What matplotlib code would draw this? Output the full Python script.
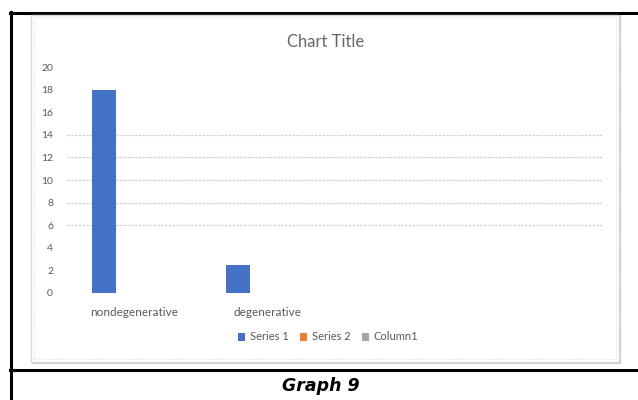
import matplotlib
matplotlib.use("Agg")
import matplotlib.pyplot as plt
from matplotlib.patches import Rectangle
from matplotlib.lines import Line2D

# Chart data
categories = ["nondegenerative", "degenerative", "", ""]
series_names = ["Series 1", "Series 2", "Column1"]
series_1 = [18, 2.5, 0, 0]
series_2 = [0, 0, 0, 0]
column_1 = [0, 0, 0, 0]
y_ticks = [0, 2, 4, 6, 8, 10, 12, 14, 16, 18, 20]
grid_values = [6, 8, 10, 12, 14]
caption = "Graph 9"

colors = ["#4472C4", "#ED7D31", "#A5A5A5"]
text_gray = "#595959"

W, H = 638, 400
fig = plt.figure(figsize=(W / 100, H / 100), dpi=100)
fig.patch.set_facecolor("white")


def fx(px):
    return px / W


def fy(py):
    return 1 - py / H


# Outer table lines
for (x0, y0, x1, y1) in [(10, 12.5, 640, 12.5), (10.5, 12, 10.5, 400), (10, 370, 640, 370)]:
    fig.add_artist(Line2D([fx(x0), fx(x1)], [fy(y0), fy(y1)], color="black", lw=2.2))

# Chart frame with soft shadow
fig.add_artist(Rectangle((fx(32), fy(364)), fx(589), 349 / H, facecolor="#c8c8c8",
                         edgecolor="none", zorder=1))
fig.add_artist(Rectangle((fx(31), fy(362)), fx(588), 347 / H, facecolor="white",
                         edgecolor="#d9d9d9", lw=1.0, zorder=2))
fig.add_artist(Rectangle((fx(34), fy(359)), fx(582), 342 / H, facecolor="white",
                         edgecolor="#ececec", lw=0.8, ls=(0, (3, 1)), zorder=2))

# Plot area
ax = fig.add_axes([fx(67), fy(293), fx(602 - 67), (293 - 67) / H], zorder=3)
ax.set_facecolor("none")
bar_w = 0.175
step = bar_w * 1.27
offsets = [-step, 0, step]
xs = list(range(len(categories)))
for vals, off, col, name in zip([series_1, series_2, column_1], offsets, colors, series_names):
    ax.bar([x + off for x in xs], vals, width=bar_w, color=col, label=name, zorder=3)

for g in grid_values:
    ax.axhline(g, color="#d0d0d0", lw=0.9, ls=(0, (2, 1)), zorder=1)

ax.set_xlim(-0.5, len(categories) - 0.5)
ax.set_ylim(0, 20)
ax.set_yticks(y_ticks)
ax.set_yticklabels([str(t) for t in y_ticks], fontsize=7.5, color=text_gray, family="Lato")
ax.set_xticks(xs)
ax.set_xticklabels(categories, fontsize=8.5, color=text_gray, family="Lato")
ax.tick_params(length=0, pad=10, axis="y")
ax.tick_params(length=0, pad=10, axis="x")
for s in ax.spines.values():
    s.set_visible(False)

# Title
fig.text(fx(326), fy(42), "Chart Title", ha="center", va="center", fontsize=12,
         color="#666666", family="Lato", zorder=4)

# Legend
handles, labels = ax.get_legend_handles_labels()
leg = fig.legend(handles, labels, loc="center", bbox_to_anchor=(fx(328), fy(337)), ncol=3,
                 frameon=False, handlelength=0.7, handleheight=0.7,
                 handletextpad=0.4, columnspacing=1.0, prop={"family": "Lato", "size": 8})
for t in leg.get_texts():
    t.set_color(text_gray)

# Caption below chart
fig.text(fx(321), fy(386), caption, ha="center", va="center", fontsize=12.5,
         fontweight="bold", style="italic", family="DejaVu Sans", color="black")

fig.savefig("out.png", dpi=100, facecolor="white")
